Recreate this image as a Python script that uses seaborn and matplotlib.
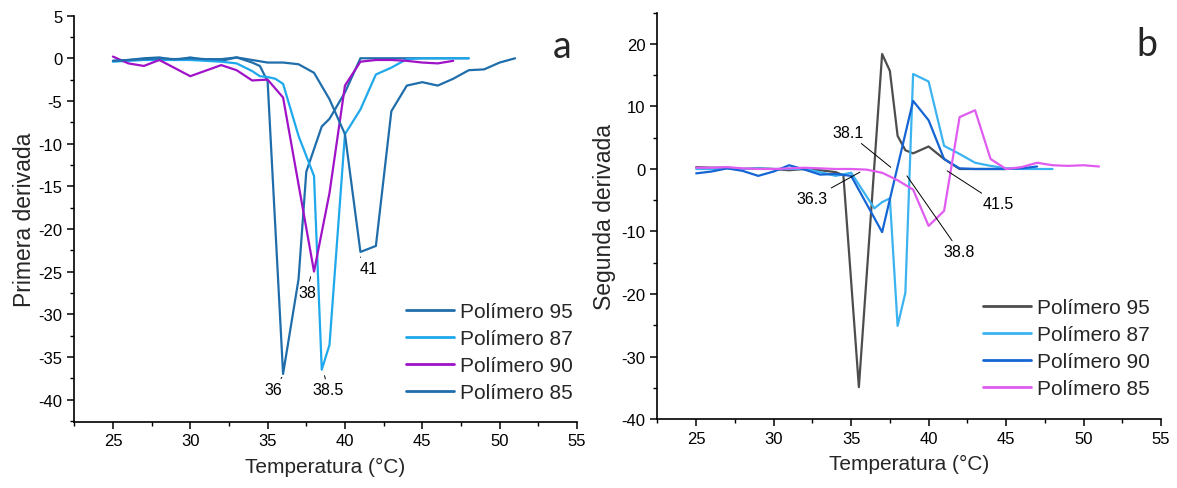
import numpy as np
import pandas as pd
import matplotlib
matplotlib.use("Agg")
import matplotlib.pyplot as plt
import seaborn as sns
from matplotlib.ticker import MultipleLocator

# ---------------- data: first derivative (panel a) ----------------
names = ["Polímero 95", "Polímero 87", "Polímero 90", "Polímero 85"]

t95_a = [25, 26, 27, 28, 29, 30, 31, 32, 33, 34, 34.5, 35, 36, 37, 37.5, 38.5, 39, 40, 41, 42, 43, 44, 45, 46, 47, 48]
d95_a = [-0.3, -0.2, 0.0, 0.1, -0.2, 0.1, -0.2, -0.3, 0.1, -0.5, -0.9, -2.7, -37.0, -25.9, -13.3, -8.0, -7.1, -4.0,
         0.0, 0.0, 0.0, 0.0, 0.0, 0.0, 0.0, 0.0]

t87_a = [25, 26, 27, 28, 29, 30, 31, 32, 33, 34, 34.5, 35, 35.5, 36, 37, 38, 38.5, 39, 40, 41, 42, 43, 44, 45, 46, 47, 48]
d87_a = [-0.4, -0.3, -0.2, -0.2, -0.2, -0.2, -0.3, -0.4, -0.6, -1.5, -2.1, -2.2, -2.4, -3.0, -9.1, -13.8, -36.5,
         -33.6, -8.9, -6.0, -1.9, -1.1, -0.1, 0.0, 0.0, 0.0, 0.0]

t90_a = [25, 26, 27, 28, 30, 32, 33, 34, 35, 36, 37, 38, 39, 40, 41, 42, 43, 44, 45, 46, 47]
d90_a = [0.2, -0.6, -0.9, -0.2, -2.1, -0.8, -1.4, -2.6, -2.5, -4.6, -14.8, -25.0, -15.8, -3.2, -0.4, -0.2, -0.2,
         -0.3, -0.5, -0.6, -0.3]

t85_a = [25, 26, 27, 28, 29, 30, 31, 32, 33, 34, 35, 36, 37, 38, 39, 40, 41, 42, 43, 44, 45, 46, 47, 48, 49, 50, 51]
d85_a = [-0.3, -0.2, -0.1, 0.0, -0.1, 0.0, -0.1, -0.1, 0.1, -0.2, -0.5, -0.5, -0.7, -1.7, -4.8, -8.9, -22.7, -22.0,
         -6.2, -3.2, -2.8, -3.2, -2.4, -1.4, -1.3, -0.5, 0.0]

# ---------------- data: second derivative (panel b) ----------------
t95_b = [25, 26, 27, 28, 29, 30, 31, 32, 33, 34, 34.5, 35.5, 37, 37.5, 38, 38.5, 39, 40, 41, 42, 43, 44, 45]
d95_b = [0.3, 0.2, 0.2, 0.0, 0.1, 0.0, -0.2, 0.0, -0.2, -0.5, -1.0, -34.9, 18.4, 15.7, 5.3, 3.0, 2.5, 3.6, 1.6,
         0.0, 0.0, 0.0, 0.0]

t87_b = [25, 26, 27, 28, 29, 30, 31, 32, 33, 34, 35, 36.5, 37, 37.5, 38, 38.5, 39, 40, 41, 42, 43, 44, 45, 46, 47, 48]
d87_b = [0.0, 0.0, 0.1, 0.0, 0.1, 0.0, 0.0, 0.0, -0.5, -1.1, -0.6, -6.3, -5.3, -4.7, -25.1, -19.8, 15.2, 14.0, 3.7,
         2.4, 1.0, 0.5, 0.1, 0.0, 0.0, 0.0]

t90_b = [25, 26, 27, 28, 29, 30, 31, 32, 33, 34, 35, 37, 39, 40, 41, 42, 43, 44, 45, 46, 47]
d90_b = [-0.7, -0.4, 0.1, -0.3, -1.1, -0.4, 0.6, -0.1, -0.9, -0.8, -1.1, -10.1, 10.9, 7.8, 1.6, 0.1, 0.0, 0.0, 0.0,
         0.1, 0.4]

t85_b = [25, 26, 27, 28, 29, 30, 31, 32, 33, 34, 35, 36, 37, 38, 39, 40, 41, 42, 43, 44, 45, 46, 47, 48, 49, 50, 51]
d85_b = [0.2, 0.2, 0.3, 0.1, 0.0, 0.0, 0.1, 0.2, 0.1, 0.0, 0.0, -0.1, -0.6, -1.8, -3.3, -9.1, -6.7, 8.3, 9.4, 1.6,
         0.0, 0.3, 1.0, 0.6, 0.5, 0.6, 0.4]

# peak labels: (text, text position, point)
labels_a = [("36", (35.34, -38.8), (35.92, -37.4)),
            ("38.5", (38.9, -38.85), (38.68, -37.2)),
            ("38", (37.54, -27.4), (37.78, -25.6)),
            ("41", (41.53, -24.6), (41.0, -23.3))]
labels_b = [("38.1", (34.8, 5.8), (37.56, 0.27)),
            ("36.3", (32.5, -4.7), (35.57, -0.5)),
            ("38.8", (42.0, -13.2), (38.6, -1.1)),
            ("41.5", (44.5, -5.6), (41.2, -0.3))]

colors_a = ["#1f6eab", "#1fa8ec", "#a012c8", "#1f6eab"]
colors_b = ["#4d4d4d", "#3ab3f0", "#1565d4", "#e05cf0"]


def long_frame(temps, values):
    parts = []
    for name, t, v in zip(names, temps, values):
        parts.append(pd.DataFrame({"Temperatura": t, "valor": v, "serie": name}))
    return pd.concat(parts, ignore_index=True)


df_a = long_frame([t95_a, t87_a, t90_a, t85_a], [d95_a, d87_a, d90_a, d85_a])
df_b = long_frame([t95_b, t87_b, t90_b, t85_b], [d95_b, d87_b, d90_b, d85_b])

sns.set_theme(style="ticks")
plt.rcParams["font.family"] = ["Liberation Sans", "DejaVu Sans"]
plt.rcParams["axes.linewidth"] = 1.2
plt.rcParams["axes.unicode_minus"] = False

fig = plt.figure(figsize=(11.77, 4.89), dpi=100)
ax1 = fig.add_axes([0.0631, 0.1356, 0.4271, 0.8304])
ax2 = fig.add_axes([0.5586, 0.1411, 0.4278, 0.8308])

for ax, df, pal in [(ax1, df_a, colors_a), (ax2, df_b, colors_b)]:
    sns.lineplot(data=df, x="Temperatura", y="valor", hue="serie", hue_order=names,
                 palette=pal, sort=False, estimator=None, linewidth=1.6, ax=ax)

ax1.set_xlim(22.5, 55)
ax1.set_ylim(-42.6, 5)
ax1.yaxis.set_major_locator(MultipleLocator(5))
ax1.yaxis.set_minor_locator(MultipleLocator(2.5))
ax1.set_ylabel("Primera derivada", fontsize=16.5, labelpad=2)

ax2.set_xlim(22.5, 55)
ax2.set_ylim(-40, 25)
ax2.yaxis.set_major_locator(MultipleLocator(10))
ax2.yaxis.set_minor_locator(MultipleLocator(5))
ax2.set_ylabel("Segunda derivada", fontsize=16.5, labelpad=4)

legend_anchor = {id(ax1): (0.66, 0.048), id(ax2): (0.647, 0.052)}

for ax in (ax1, ax2):
    ax.xaxis.set_major_locator(MultipleLocator(5))
    ax.xaxis.set_minor_locator(MultipleLocator(2.5))
    ax.set_xlabel("Temperatura (°C)", fontsize=15, labelpad=6)
    ax.tick_params(axis="both", which="major", direction="out", length=5, width=1.1,
                   labelsize=12, color="black", labelcolor="black")
    ax.tick_params(axis="both", which="minor", direction="out", length=3, width=1.0, color="black")
    for side in ("top", "right"):
        ax.spines[side].set_visible(False)
    for side in ("left", "bottom"):
        ax.spines[side].set_color("black")
    ax.set_facecolor("white")
    leg = ax.legend(loc="lower left", bbox_to_anchor=legend_anchor[id(ax)], frameon=False, fontsize=15,
                    handlelength=2.3, handletextpad=0.3, labelspacing=0.38, borderpad=0,
                    borderaxespad=0)
    for line in leg.get_lines():
        line.set_linewidth(2.0)

for text, pos, pt in labels_a:
    ax1.annotate(text, xy=pt, xytext=pos, fontsize=11.5, ha="center", va="center", color="black",
                 arrowprops=dict(arrowstyle="-", lw=0.7, color="black", shrinkA=0, shrinkB=0))
for text, pos, pt in labels_b:
    ax2.annotate(text, xy=pt, xytext=pos, fontsize=11.5, ha="center", va="center", color="black",
                 arrowprops=dict(arrowstyle="-", lw=0.7, color="black", shrinkA=0, shrinkB=0))

fig.text(0.478, 0.904, "a", fontsize=27, family="Lato", ha="center", va="center")
fig.text(0.9745, 0.908, "b", fontsize=27, family="Lato", ha="center", va="center")

fig.savefig("out.png", dpi=100, facecolor="white")
